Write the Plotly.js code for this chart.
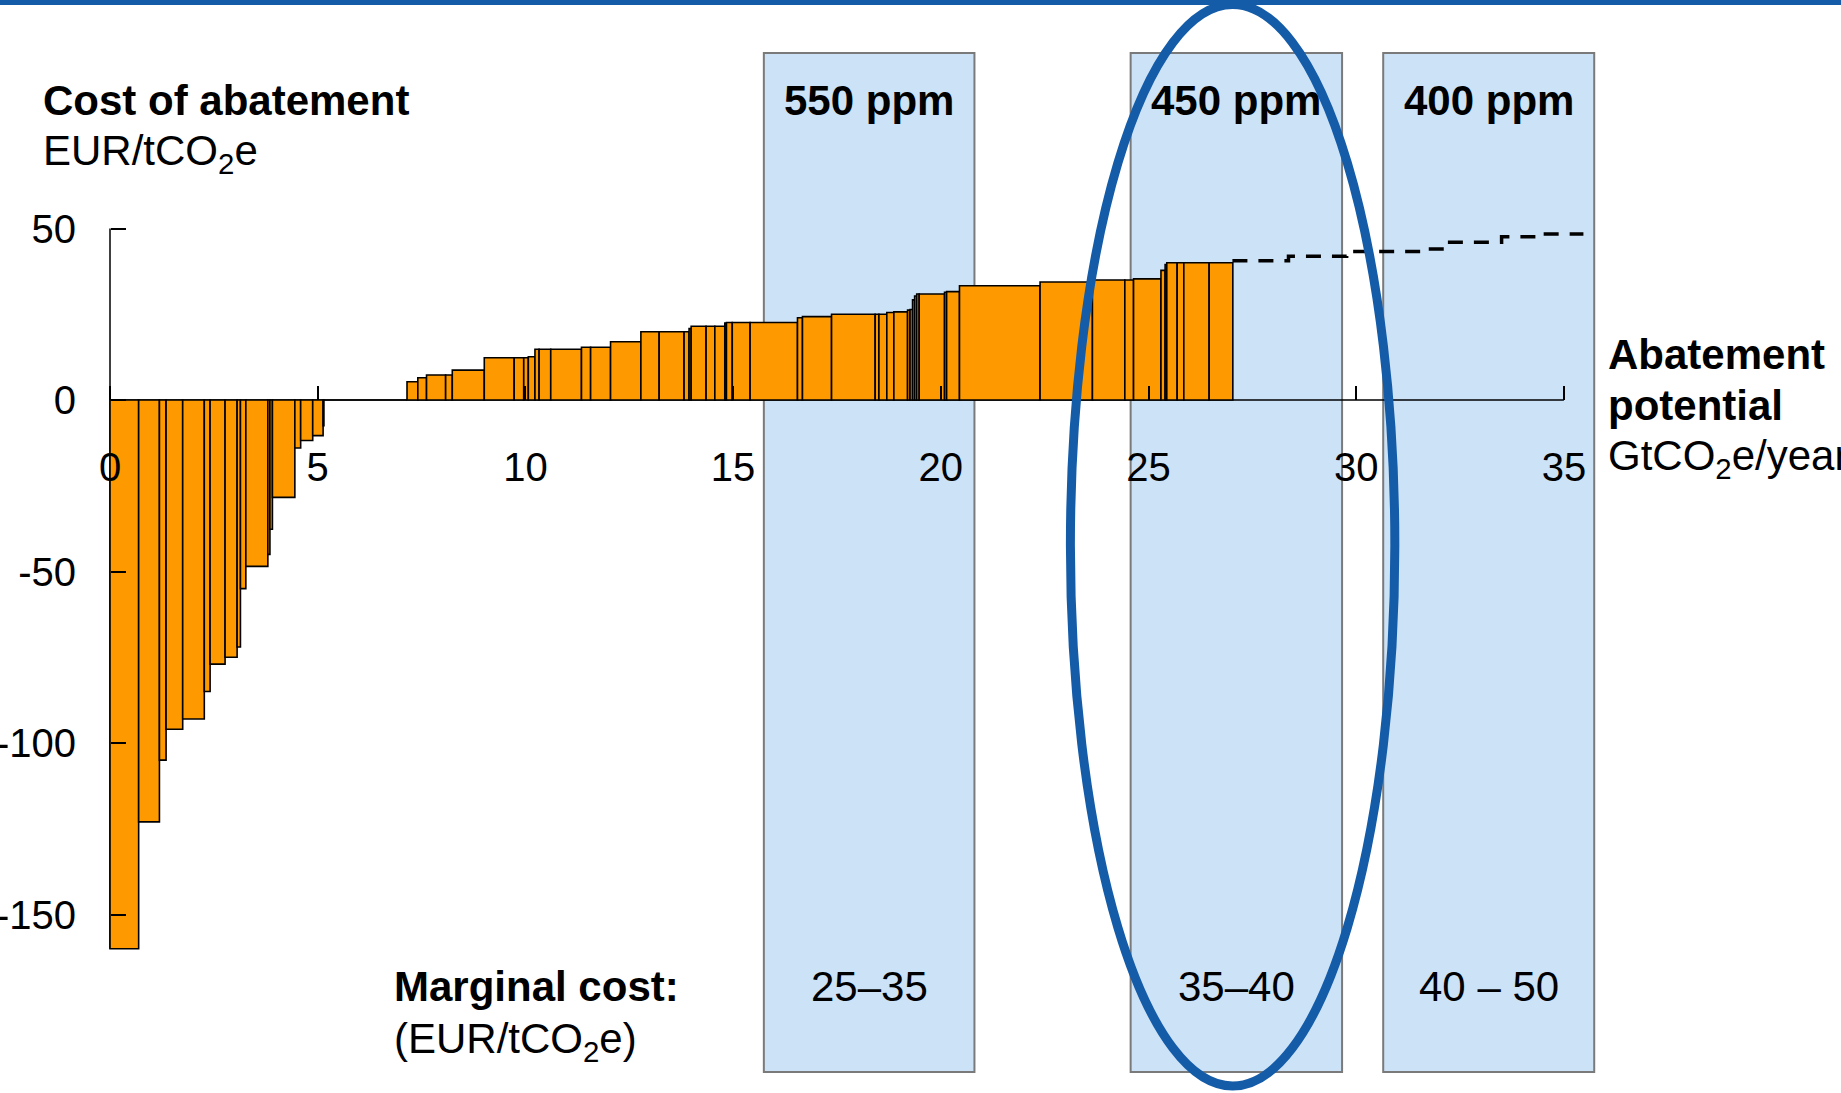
<!DOCTYPE html>
<html>
<head>
<meta charset="utf-8">
<script src="https://cdn.plot.ly/plotly-3.0.1.min.js"></script>
<style>
  html, body { margin: 0; padding: 0; background: #ffffff; overflow: hidden; }
  #chart { width: 1841px; height: 1093px; }
</style>
</head>
<body>
<div id="chart"></div>
<script>
// Abatement measures in merit order: potential (GtCO2e/year) and cost (EUR/tCO2e)
const potential = [
  0.69, 0.50, 0.16, 0.40, 0.52, 0.14, 0.36, 0.29, 0.08, 0.13, 0.53, 0.05, 0.06, 0.54, 0.14, 0.29, 0.25, 0.02,
  2.00,
  0.26, 0.21, 0.46, 0.16, 0.77, 0.72, 0.23, 0.11, 0.16, 0.10, 0.28, 0.74, 0.22, 0.48, 0.73, 0.44, 0.60, 0.12,
  0.05, 0.36, 0.21, 0.24, 0.04, 0.14, 0.43, 1.14, 0.12, 0.70, 1.05, 0.09, 0.19, 0.17, 0.33, 0.06, 0.06, 0.05,
  0.05, 0.06, 0.61, 0.05, 0.31, 1.94, 1.26, 0.78, 0.21, 0.66, 0.10, 0.04, 0.25, 0.16, 0.61, 0.57
];
const cost = [
  -160, -123, -105, -96, -93, -85, -77, -75, -72, -55, -48.5, -45, -37.7, -28.4, -14, -11.8, -10.4, -7.5,
  0,
  5.3, 6.5, 7.3, 7.3, 8.7, 12.3, 12.3, 12.3, 12.6, 14.8, 14.8, 14.8, 15.4, 15.4, 17.0, 19.9, 19.9, 19.9,
  20.8, 21.5, 21.5, 21.5, 22.4, 22.6, 22.6, 22.6, 24.0, 24.3, 25.0, 25.0, 25.0, 25.5, 25.7, 26.2, 26.4, 29.2,
  30.3, 30.9, 30.9, 31.4, 31.6, 33.3, 34.4, 35.0, 35.0, 35.3, 37.8, 39.5, 40.0, 40.0, 40.0, 40.0
];

// Further (more expensive) measures beyond the curve, shown dashed
const extPotential = [27.02, 28.37, 29.77, 31.54, 32.14, 33.50, 34.42, 35.47];
const extCost      = [40.6, 41.9, 43.3, 44.0, 46.0, 47.6, 48.4, 48.4];

// Stabilisation targets with the cumulative potential they need
const bandLabel = ['550 ppm', '450 ppm', '400 ppm'];
const bandFrom  = [15.74, 24.57, 30.65];
const bandTo    = [20.81, 29.66, 35.73];
const bandCost  = ['25–35', '35–40', '40 – 50'];

// Axis ticks
const xTicks = [0, 5, 10, 15, 20, 25, 30, 35];
const yTicks = [-150, -100, -50, 0, 50];
const yTickText = ['-150', '-100', '-50', '0', '50'];

// ---- geometry of the page ----
const W = 1841, H = 1093;
const ORIGIN_PX = 110;      // pixel column of zero potential
const ZERO_PX = 400;        // pixel row of zero cost
const PX_PER_GT = 41.54;
const PX_PER_EUR = 3.43;

const xRange = [-ORIGIN_PX / PX_PER_GT, (W - ORIGIN_PX) / PX_PER_GT];
const yRange = [-(H - ZERO_PX) / PX_PER_EUR, ZERO_PX / PX_PER_EUR];

// bar positions from cumulative potential
const centers = [];
let acc = 0;
potential.forEach(w => { centers.push(acc + w / 2); acc += w; });

const FONT = 'Liberation Sans, Arial, Helvetica, sans-serif';
const BLUE = 'rgb(21,92,168)';

const bars = {
  type: 'bar',
  x: centers,
  y: cost,
  width: potential,
  base: 0,
  marker: { color: '#FF9900', line: { color: '#000000', width: 1.6 } },
  hoverinfo: 'skip',
  showlegend: false
};

const ext = {
  type: 'scatter',
  mode: 'lines',
  x: extPotential,
  y: extCost,
  line: { color: '#000000', width: 3.5, dash: '15px,11px', shape: 'hv' },
  hoverinfo: 'skip',
  showlegend: false,
  cliponaxis: false
};

const BAND_TOP = 101.2, BAND_BOTTOM = -195.9;
const shapes = [];
bandLabel.forEach((_, i) => {
  shapes.push({
    type: 'rect', xref: 'x', yref: 'y', layer: 'below',
    x0: bandFrom[i], x1: bandTo[i], y0: BAND_BOTTOM, y1: BAND_TOP,
    fillcolor: '#cce2f7', line: { color: '#7a7a7a', width: 2 }
  });
});
// axis lines
shapes.push({ type: 'line', xref: 'x', yref: 'y', layer: 'below',
  x0: 0, x1: 35, y0: 0, y1: 0, line: { color: '#000000', width: 1.5 } });
shapes.push({ type: 'line', xref: 'x', yref: 'y', layer: 'below',
  x0: 0, x1: 0, y0: -160, y1: 50, line: { color: '#000000', width: 1.5 } });
// highlight ring around the 450 ppm target
shapes.push({ type: 'circle', xref: 'x', yref: 'y', layer: 'above',
  x0: 23.12, x1: 30.93, y0: -200, y1: 115.3,
  line: { color: BLUE, width: 9 }, fillcolor: 'rgba(0,0,0,0)' });
// top rule
shapes.push({ type: 'rect', xref: 'paper', yref: 'paper', layer: 'above',
  x0: 0, x1: 1, y0: 1 - 5 / H, y1: 1, fillcolor: BLUE, line: { width: 0 } });

function px(xPix) { return xPix / W; }
function py(yPix) { return 1 - yPix / H; }

const annotations = [];
function txt(text, x, y, opts) {
  annotations.push(Object.assign({
    text: text, x: x, y: y, xref: 'paper', yref: 'paper',
    xanchor: 'left', yanchor: 'middle', showarrow: false,
    font: { family: FONT, size: 42, color: '#000000' }
  }, opts || {}));
}

txt('<b>Cost of abatement</b>', px(41), py(100));
txt('EUR/tCO<sub>2</sub>e', px(41), py(153));
txt('<b>Abatement</b>', px(1606), py(354));
txt('<b>potential</b>', px(1606), py(405));
txt('GtCO<sub>2</sub>e/year', px(1606), py(459));
txt('<b>Marginal cost:</b>', px(392), py(986));
txt('(EUR/tCO<sub>2</sub>e)', px(392), py(1041));

bandLabel.forEach((lab, i) => {
  const mid = (bandFrom[i] + bandTo[i]) / 2;
  txt('<b>' + lab + '</b>', mid, py(100), { xref: 'x', xanchor: 'center' });
  txt(bandCost[i], mid, py(986), { xref: 'x', xanchor: 'center' });
});

const layout = {
  width: W, height: H,
  margin: { l: 0, r: 0, t: 0, b: 0, pad: 0 },
  paper_bgcolor: '#ffffff',
  plot_bgcolor: 'rgba(0,0,0,0)',
  font: { family: FONT, color: '#000000' },
  showlegend: false,
  xaxis: {
    range: xRange, anchor: 'free', position: 1 - ZERO_PX / H,
    showgrid: false, zeroline: false, showline: false,
    tickmode: 'array', tickvals: xTicks,
    ticks: 'inside', ticklen: 14, tickwidth: 2, tickcolor: '#000000',
    tickfont: { family: FONT, size: 40, color: '#000000' },
    ticklabelstandoff: 40, fixedrange: true
  },
  yaxis: {
    range: yRange, anchor: 'free', position: ORIGIN_PX / W,
    showgrid: false, zeroline: false, showline: false,
    tickmode: 'array', tickvals: yTicks, ticktext: yTickText,
    ticks: 'inside', ticklen: 15, tickwidth: 2, tickcolor: '#000000',
    tickfont: { family: FONT, size: 40, color: '#000000' },
    ticklabelstandoff: 34, fixedrange: true
  },
  shapes: shapes,
  annotations: annotations
};

Plotly.newPlot('chart', [bars, ext], layout, { staticPlot: true, displayModeBar: false });
</script>
</body>
</html>
